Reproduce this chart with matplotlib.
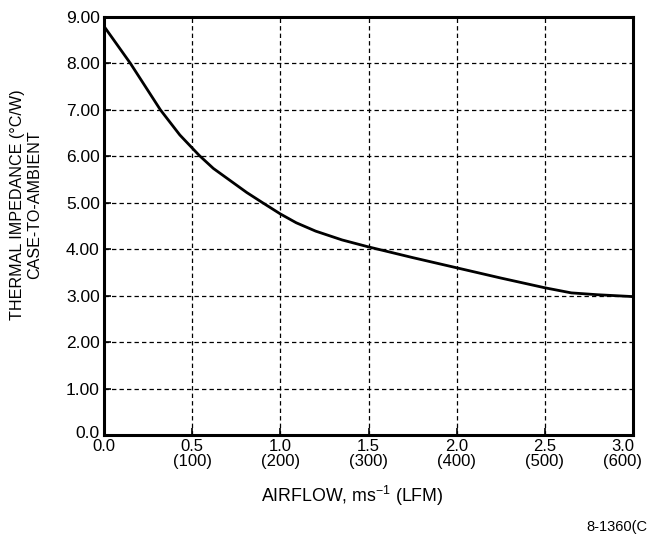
import matplotlib
matplotlib.use("Agg")
import matplotlib.pyplot as plt
import matplotlib.transforms as mtransforms

plt.rcParams['font.family'] = ['Liberation Sans', 'DejaVu Sans']
plt.rcParams['mathtext.fontset'] = 'custom'
plt.rcParams['mathtext.rm'] = 'Liberation Sans'
plt.rcParams['mathtext.it'] = 'Liberation Sans'

# Data
airflow = [0.00, 0.15, 0.32, 0.43, 0.54, 0.62, 0.715, 0.81, 0.90, 1.00,
           1.09, 1.20, 1.35, 1.50, 1.75, 2.00, 2.25, 2.50, 2.65, 2.80, 3.00]
impedance = [8.80, 8.00, 7.00, 6.46, 6.02, 5.74, 5.48, 5.22, 5.00, 4.76,
             4.57, 4.39, 4.20, 4.05, 3.82, 3.60, 3.38, 3.17, 3.06, 3.02, 2.98]

x_ticks = [0.0, 0.5, 1.0, 1.5, 2.0, 2.5, 3.0]
x_tick_labels = ['0.0', '0.5\n(100)', '1.0\n(200)', '1.5\n(300)', '2.0\n(400)',
                 '2.5\n(500)', '3.0\n(600)']
y_ticks = [0, 1, 2, 3, 4, 5, 6, 7, 8, 9]
y_tick_labels = ['0.0', '1.00', '2.00', '3.00', '4.00', '5.00', '6.00',
                 '7.00', '8.00', '9.00']

fig = plt.figure(figsize=(6.47, 5.37), dpi=100)
ax = fig.add_axes([104/647, 1-435/537, (633-104)/647, (435-17)/537])

ax.plot(airflow, impedance, color='black', lw=2.0, solid_capstyle='round',
        solid_joinstyle='round', zorder=3)

ax.set_xlim(0, 3.0)
ax.set_ylim(0, 9.0)
ax.set_xticks(x_ticks)
ax.set_xticklabels(x_tick_labels, fontsize=12, linespacing=0.95)
ax.set_yticks(y_ticks)
ax.set_yticklabels(y_tick_labels, fontsize=12.5)
ax.tick_params(axis='both', direction='in', length=5, width=1.2, colors='black', pad=3)

# shift the last x tick label left so it stays inside the figure
xl = ax.get_xticklabels()
xl[-1].set_transform(xl[-1].get_transform() +
                     mtransforms.ScaledTranslation(-10/100, 0, fig.dpi_scale_trans))
# lift the y "0.0" label slightly, as in the reference
yl = ax.get_yticklabels()
yl[0].set_transform(yl[0].get_transform() +
                    mtransforms.ScaledTranslation(0, 3/100, fig.dpi_scale_trans))

# grid lines
for gx in x_ticks[1:-1]:
    ax.axvline(gx, color='black', lw=0.9, ls=(0, (3.5, 2.5)), zorder=1)
for gy in y_ticks[1:-1]:
    ax.axhline(gy, color='black', lw=0.9, ls=(0, (3.5, 2.5)), zorder=1)

for s in ax.spines.values():
    s.set_linewidth(2.2)
    s.set_color('black')

fig.text(26/647, 1-205/537, 'THERMAL IMPEDANCE (°C/W)\nCASE-TO-AMBIENT', rotation=90,
         ha='center', va='center', multialignment='center', fontsize=11.6, linespacing=1.12)
fig.text(352/647, 1-496/537, r'AIRFLOW, ms$^{-1}$ (LFM)',
         ha='center', va='center', fontsize=12.8)
fig.text(586/647, 1-527/537, '8-1360(C', ha='left', va='center', fontsize=10.5)

fig.savefig('out.png', dpi=100)
